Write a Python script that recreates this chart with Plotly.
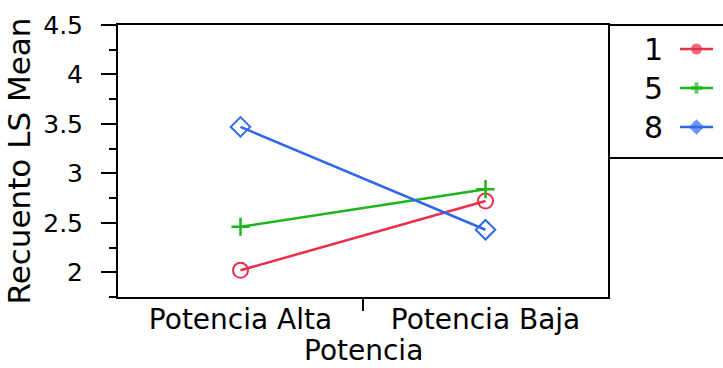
import plotly.graph_objects as go

# Least-squares means of Recuento by Potencia, one line per level
potencia = ["Potencia Alta", "Potencia Baja"]
series_names = ["1", "5", "8"]
ls_mean_1 = [2.02, 2.72]
ls_mean_5 = [2.46, 2.84]
ls_mean_8 = [3.47, 2.43]
y_ticks = [2, 2.5, 3, 3.5, 4, 4.5]
y_tick_text = ["2", "2.5", "3", "3.5", "4", "4.5"]
x_title = "Potencia"

W, H = 723, 368
FONT = "DejaVu Sans"

colors = ["#EB2F4B", "#1DB51D", "#2F69EA"]
symbols = ["circle-open", "cross-thin-open", "diamond-open"]
sizes = [15, 13, 15]
mwidths = [2, 2.5, 2]
legend_symbols = ["circle", "cross-thin-open", "diamond"]
legend_sizes = [11, 8, 12]
legend_widths = [0, 4, 0]

# pixel layout of plot frame and key box
px_left, px_right, px_top, px_bottom = 118, 608, 25, 297
key_bottom = 158

fig = go.Figure()

for name, vals, c, s, sz, mw in zip(series_names, [ls_mean_1, ls_mean_5, ls_mean_8],
                                    colors, symbols, sizes, mwidths):
    fig.add_trace(go.Scatter(
        x=potencia, y=vals, name=name, mode="lines+markers",
        line=dict(color=c, width=2.5),
        marker=dict(symbol=s, size=sz, color=c, line=dict(color=c, width=mw)),
        xaxis="x", yaxis="y", showlegend=False,
    ))

# key box drawn on its own small axes (pixel units, y downward)
row_y = [24, 63, 102]
key_line_x = [72, 88.5, 105]
for name, c, s, sz, lw, ry in zip(series_names, colors, legend_symbols,
                                  legend_sizes, legend_widths, row_y):
    fig.add_trace(go.Scatter(
        x=key_line_x, y=[ry] * 3, mode="lines+markers",
        line=dict(color=c, width=2.5),
        marker=dict(symbol=s, size=[0, sz, 0], color=c, line=dict(color=c, width=lw)),
        xaxis="x2", yaxis="y2", showlegend=False, hoverinfo="skip",
    ))
    fig.add_annotation(x=45, y=ry, xref="x2", yref="y2", text=name, showarrow=False,
                       font=dict(family=FONT, size=30, color="black"),
                       xanchor="center", yanchor="middle")

# x axis title sits at the foot of the page, below the category labels
fig.add_annotation(x=(px_left + px_right) / 2 / W, y=0, xref="paper", yref="paper",
                   text=x_title, showarrow=False, xanchor="center", yanchor="bottom",
                   borderpad=0, font=dict(family=FONT, size=28, color="black"))

# hidden overlay axis that carries the single divider tick between categories
fig.add_trace(go.Scatter(x=[0.5], y=[None], xaxis="x3", yaxis="y",
                         showlegend=False, hoverinfo="skip"))

dom_x = [px_left / W, px_right / W]
dom_y = [(H - px_bottom) / H, (H - px_top) / H]

fig.update_layout(
    width=W, height=H,
    margin=dict(l=0, r=0, t=0, b=0, pad=0),
    paper_bgcolor="white", plot_bgcolor="white",
    font=dict(family=FONT, color="black"),
    xaxis=dict(
        domain=dom_x, type="category", range=[-0.5, 1.5],
        showline=True, linecolor="black", linewidth=2, mirror=True,
        ticks="", showgrid=False, zeroline=False,
        ticklabelstandoff=-4,
        tickfont=dict(size=28, color="black"),
        automargin=False, fixedrange=True,
    ),
    xaxis3=dict(
        overlaying="x", anchor="y", type="linear", range=[-0.5, 1.5],
        tickmode="array", tickvals=[0.5], showticklabels=False,
        ticks="outside", ticklen=13, tickwidth=2, tickcolor="black",
        showline=False, showgrid=False, zeroline=False, automargin=False,
    ),
    yaxis=dict(
        domain=dom_y, range=[1.75, 4.5],
        tickmode="array", tickvals=y_ticks, ticktext=y_tick_text,
        showline=True, linecolor="black", linewidth=2, mirror=True,
        ticks="outside", ticklen=15, tickwidth=2, tickcolor="black",
        ticklabelstandoff=13,
        minor=dict(dtick=0.25, tick0=1.75, ticks="outside", ticklen=7,
                   tickwidth=2, tickcolor="black", showgrid=False),
        showgrid=False, zeroline=False,
        tickfont=dict(size=25, color="black"),
        title=dict(text="Recuento LS Mean", font=dict(size=31, color="black"), standoff=3),
        automargin=False, fixedrange=True,
    ),
    xaxis2=dict(
        domain=[px_right / W, 1], range=[0, W - px_right], anchor="y2",
        visible=False, fixedrange=True,
    ),
    yaxis2=dict(
        domain=[(H - key_bottom) / H, (H - px_top) / H], range=[key_bottom - px_top, 0],
        anchor="x2", visible=False, fixedrange=True,
    ),
    shapes=[
        # key box: top continues the frame, bottom closes it
        dict(type="line", xref="paper", yref="paper", x0=px_right / W, x1=1,
             y0=(H - px_top) / H, y1=(H - px_top) / H, line=dict(color="black", width=2)),
        dict(type="line", xref="paper", yref="paper", x0=px_right / W, x1=1,
             y0=(H - key_bottom) / H, y1=(H - key_bottom) / H, line=dict(color="black", width=2)),
    ],
)

fig.write_html("out.html")
